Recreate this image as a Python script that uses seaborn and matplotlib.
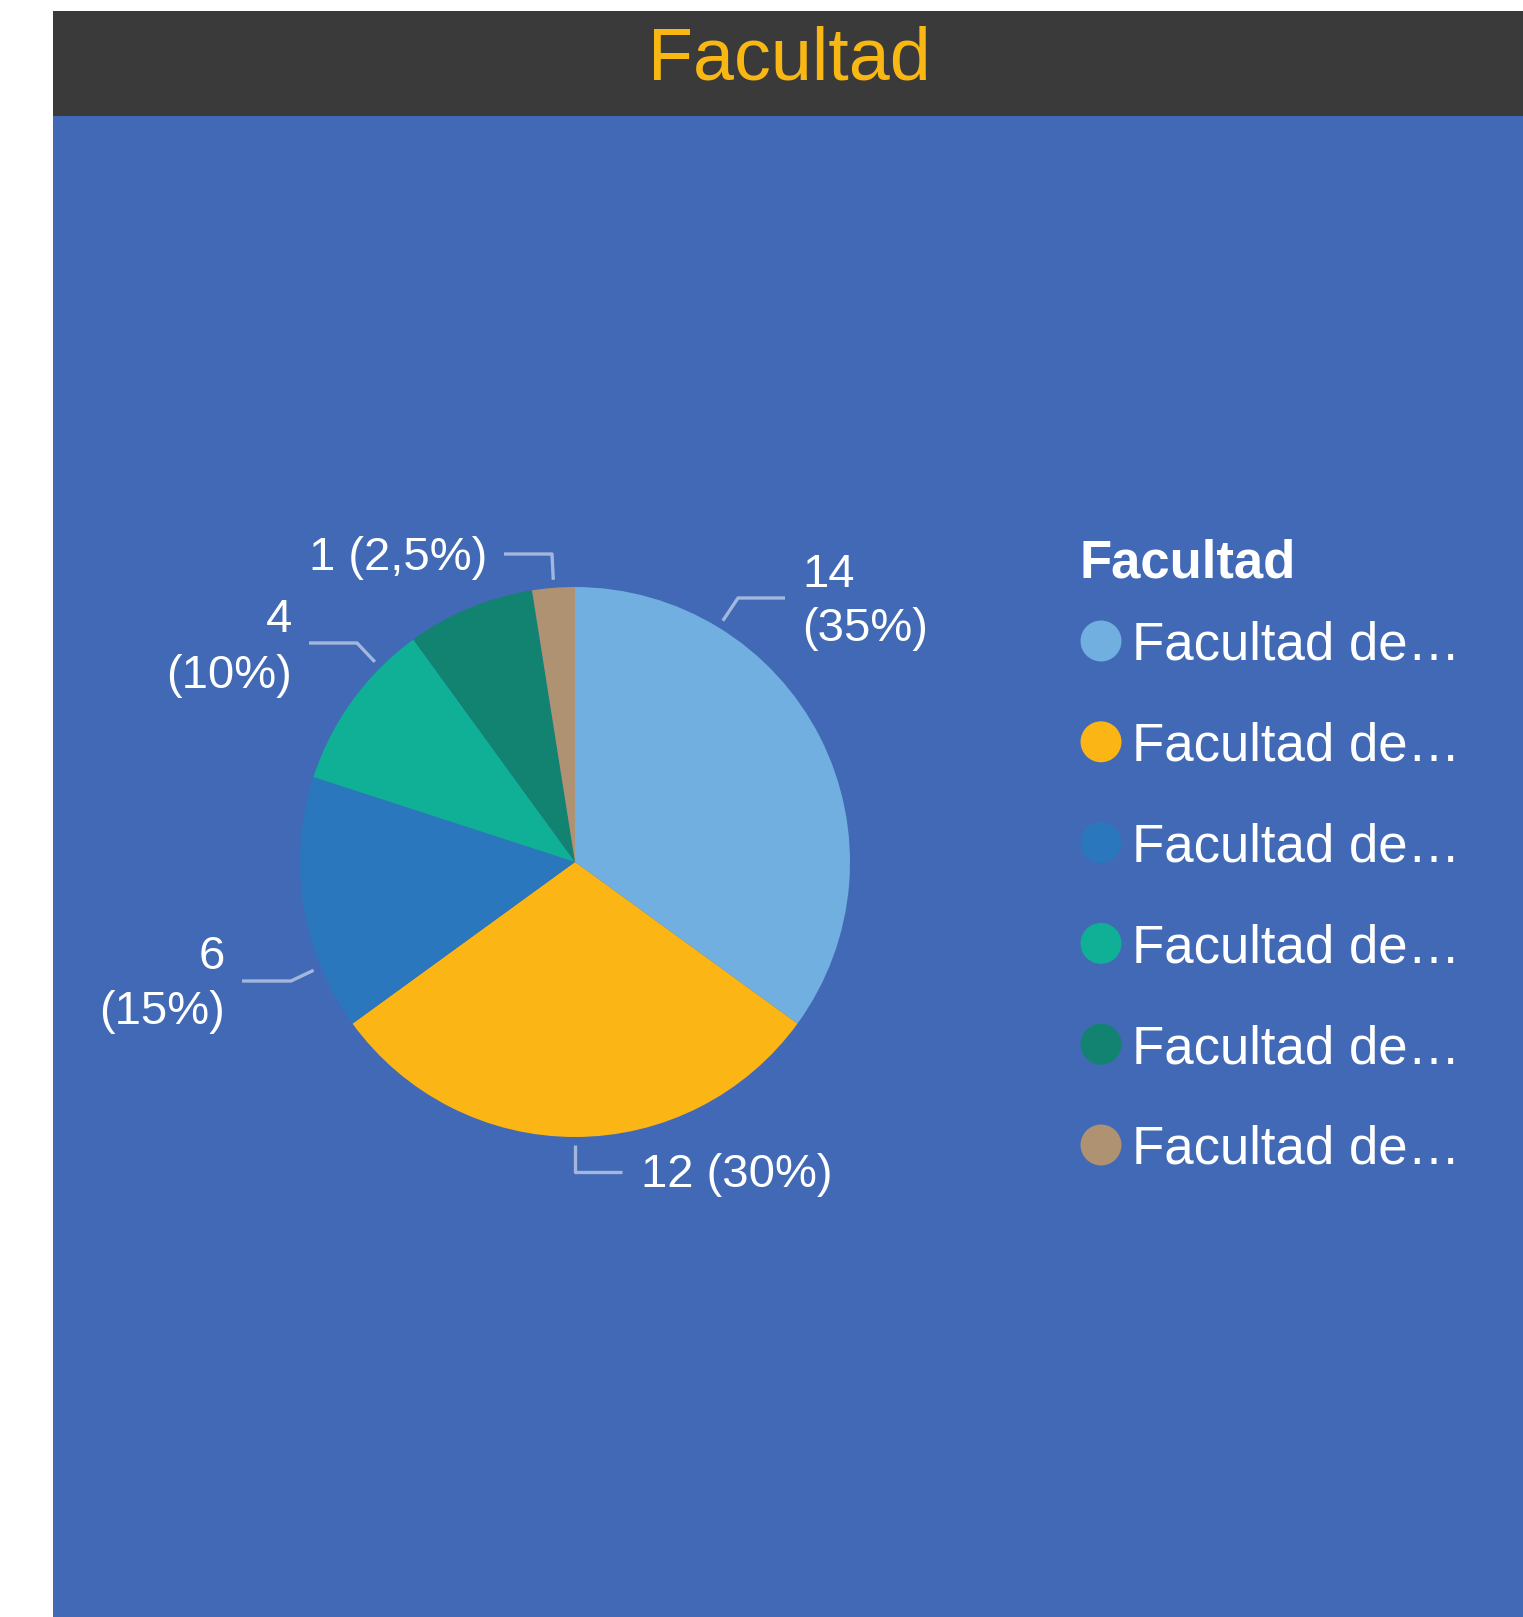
import matplotlib
matplotlib.use("Agg")
import matplotlib.pyplot as plt
from matplotlib.patches import Rectangle
import numpy as np
import seaborn as sns

# ---------------- data ----------------
title = "Facultad"
legend_title = "Facultad"
categories = ["Facultad de…", "Facultad de…", "Facultad de…",
              "Facultad de…", "Facultad de…", "Facultad de…"]
values = [14, 12, 6, 4, 3, 1]
slice_colors = ["#71AFE0", "#FBB515", "#2A77BD", "#0FB096", "#118370", "#AF9271"]
show_label = [True, True, True, True, False, True]
two_line = [True, False, True, True, False, False]

# ---------------- style ----------------
sns.set_theme(style="white")
plt.rcParams["font.family"] = ["Liberation Sans", "DejaVu Sans"]
palette = sns.color_palette(slice_colors)

W, H = 1523, 1617
BG_BLUE = "#4169B5"
HEADER = "#3A3A3A"
ORANGE = "#F9B714"
LEADER = "#A3B6DE"

def Y(py):
    return H - py

fig = plt.figure(figsize=(W / 100, H / 100), dpi=100)
fig.patch.set_facecolor("white")
ax = fig.add_axes([0, 0, 1, 1])

# panel backgrounds
ax.add_patch(Rectangle((53, Y(H)), W - 53, H - 116, color=BG_BLUE, lw=0, zorder=0))
ax.add_patch(Rectangle((53, Y(116)), W - 53, 116 - 11, color=HEADER, lw=0, zorder=0))
ax.text(789, Y(80), title, color=ORANGE, fontsize=53, ha="center", va="baseline")

# pie
cx, cy, R = 575, 862, 275
wedges, _ = ax.pie(values, colors=palette, startangle=90, counterclock=False,
                   center=(cx, Y(cy)), radius=R, wedgeprops=dict(linewidth=0))
for w in wedges:
    w.set_zorder(2)

total = sum(values)

def fmt_pct(v):
    p = v / total * 100
    if abs(p - round(p)) < 1e-9:
        return f"{int(round(p))}%"
    return f"{p:.1f}%".replace(".", ",")

# label layout: (anchor angle deg, elbow px, end px, text x, baselines, ha)
layout = [
    (58.5, (738, 598), (785, 598), 802, [587, 641], "left"),
    (-90.0, (575, 1172), (622, 1172), 641, [1187], "left"),
    (-157.5, (291, 981), (242, 981), 225, [969, 1024], "right"),
    (135.0, (357, 643), (309, 643), 292, [632, 688], "right"),
    None,
    (94.4, (552, 554), (504, 554), 487, [570], "right"),
]

for i, v in enumerate(values):
    if not show_label[i] or layout[i] is None:
        continue
    ang, elbow, end, tx, baselines, ha = layout[i]
    a = np.deg2rad(ang)
    rs = R + 8
    sx, sy = cx + rs * np.cos(a), cy - rs * np.sin(a)
    ax.plot([sx, elbow[0], end[0]], [Y(sy), Y(elbow[1]), Y(end[1])],
            color=LEADER, lw=2.4, solid_capstyle="butt", zorder=3)
    if two_line[i]:
        lines = [f"{v}", f"({fmt_pct(v)})"]
    else:
        lines = [f"{v} ({fmt_pct(v)})"]
    for txt, b in zip(lines, baselines):
        ax.text(tx, Y(b), txt, color="white", fontsize=34, ha=ha, va="baseline", zorder=4)

# legend
ax.text(1080, Y(577), legend_title, color="white", fontsize=38, fontweight="bold",
        ha="left", va="baseline")
for i, (cat, col) in enumerate(zip(categories, palette)):
    yc = 641 + i * 100.8
    ax.scatter([1101], [Y(yc)], s=870, color=col, edgecolor="none", zorder=4)
    ax.text(1132, Y(yc + 19), cat, color="white", fontsize=38, ha="left", va="baseline")

ax.set_xlim(0, W)
ax.set_ylim(0, H)
ax.set_aspect("auto")
ax.axis("off")

fig.savefig("out.png", dpi=100, facecolor=fig.get_facecolor())
